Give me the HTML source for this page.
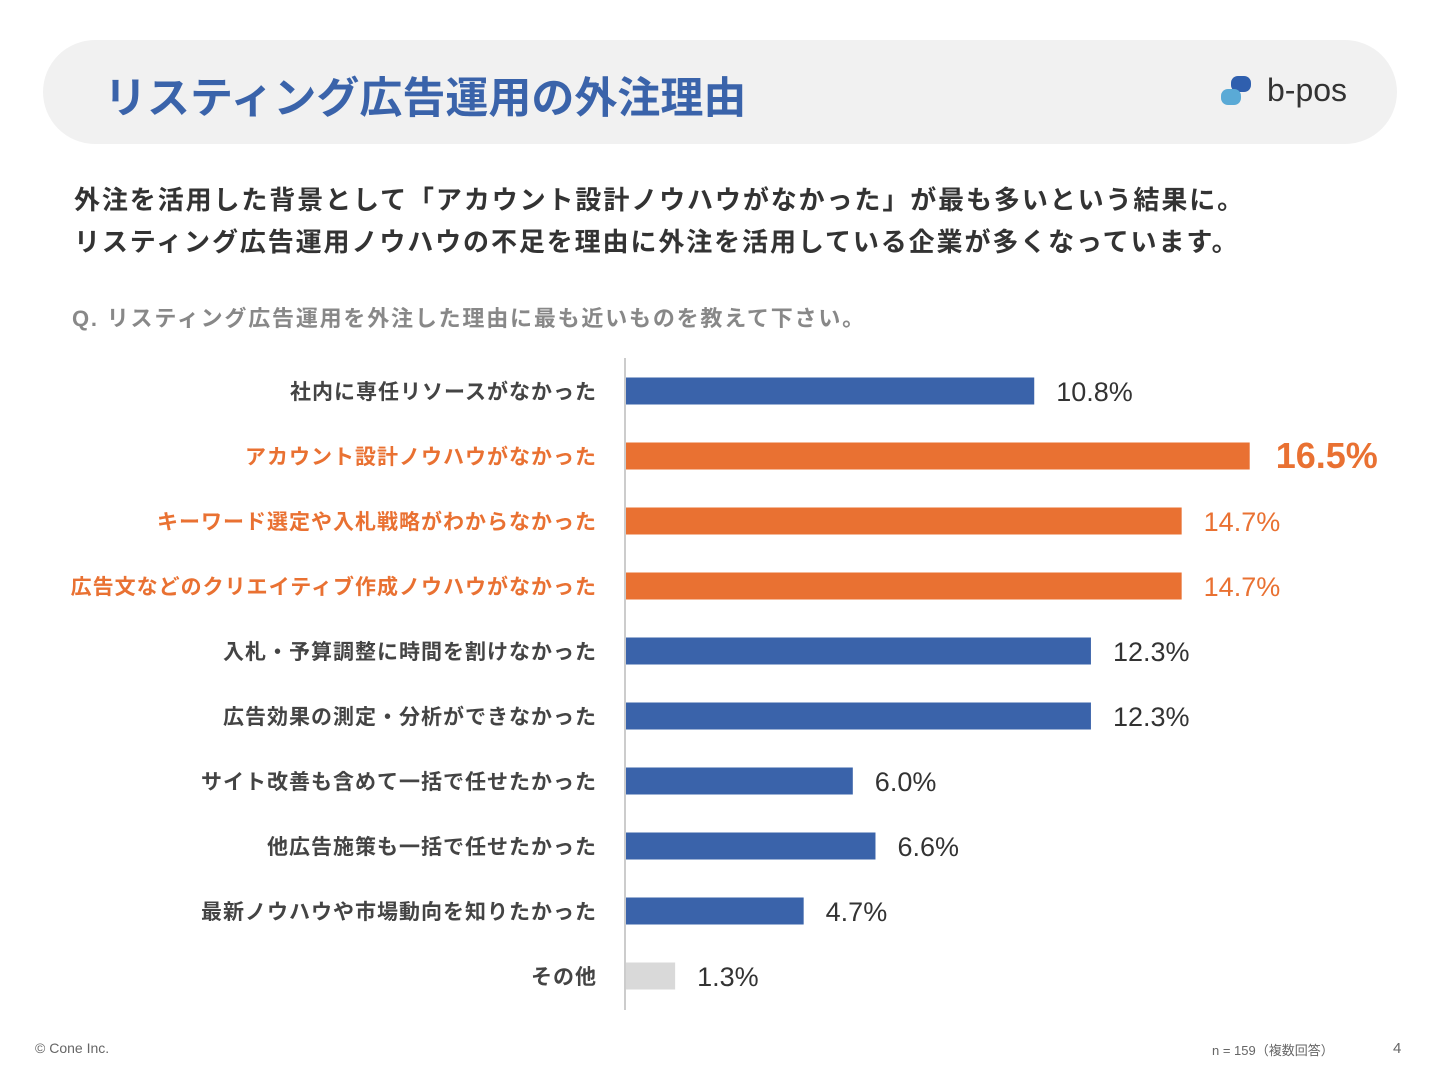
<!DOCTYPE html>
<html><head><meta charset="utf-8"><style>
body{margin:0;width:1440px;height:1080px;background:#fff;font-family:"Liberation Sans","Noto Sans CJK JP",sans-serif;position:relative;overflow:hidden}
.hdr{position:absolute;left:43px;top:40px;width:1354px;height:104px;background:#f1f1f1;border-radius:52px}
.title{position:absolute;left:104px;top:64px;font-size:43px;font-weight:bold;color:#3a63aa;letter-spacing:0}
.sub{position:absolute;left:74px;font-size:26px;font-weight:bold;color:#333;letter-spacing:1.9px}
.q{position:absolute;left:72px;top:301px;font-size:22px;font-weight:bold;color:#888;letter-spacing:1.8px}
.foot{position:absolute;font-size:14px;color:#666}
</style></head><body>
<div class="hdr"></div>
<div class="title">リスティング広告運用の外注理由</div>
<div style="position:absolute;left:1220px;top:74px;width:140px;height:40px">
<svg width="40" height="40" style="position:absolute;left:0;top:0"><rect x="11" y="2" width="20" height="16" rx="7" fill="#2f5fae"/><rect x="1" y="15" width="20" height="16" rx="7" fill="#5aaad6"/></svg>
<span style="position:absolute;left:47px;top:-2px;font-size:32px;color:#333">b-pos</span></div>
<div class="sub" style="top:180px">外注を活用した背景として「アカウント設計ノウハウがなかった」が最も多いという結果に。</div>
<div class="sub" style="top:222px">リスティング広告運用ノウハウの不足を理由に外注を活用している企業が多くなっています。</div>
<div class="q">Q. リスティング広告運用を外注した理由に最も近いものを教えて下さい。</div>
<svg id="chart" width="1440" height="1080" style="position:absolute;left:0;top:0"></svg>
<div class="foot" style="left:35px;top:1040px">© Cone Inc.</div>
<div class="foot" style="left:1212px;top:1040px;font-size:13px">n = 159（複数回答）</div>
<div class="foot" style="left:1393px;top:1040px;font-size:15px">4</div>
<script>
const categories=["社内に専任リソースがなかった","アカウント設計ノウハウがなかった","キーワード選定や入札戦略がわからなかった","広告文などのクリエイティブ作成ノウハウがなかった","入札・予算調整に時間を割けなかった","広告効果の測定・分析ができなかった","サイト改善も含めて一括で任せたかった","他広告施策も一括で任せたかった","最新ノウハウや市場動向を知りたかった","その他"];
const values=[10.8,16.5,14.7,14.7,12.3,12.3,6.0,6.6,4.7,1.3];
const labels=["10.8%","16.5%","14.7%","14.7%","12.3%","12.3%","6.0%","6.6%","4.7%","1.3%"];
const highlight=[0,1,1,1,0,0,0,0,0,0];
const svg=document.getElementById('chart');const NS='http://www.w3.org/2000/svg';
const x0=625,scale=37.8,y0=391,step=65,bh=27;
const xs=v=>v*scale;const ys=i=>y0+i*step;
const ax=document.createElementNS(NS,'line');


ax.setAttribute('x1',x0);ax.setAttribute('x2',x0);ax.setAttribute('y1',358);ax.setAttribute('y2',1010);ax.setAttribute('stroke','#ccc');ax.setAttribute('stroke-width',2);svg.appendChild(ax);
values.forEach((v,i)=>{
 const c=i===values.length-1?'#d9d9d9':(highlight[i]?'#e97132':'#3a63aa');
 const tc=highlight[i]?'#e97132':'#333';
 const r=document.createElementNS(NS,'rect');
 
 
 r.setAttribute('x',x0+1);r.setAttribute('y',ys(i)-bh/2);r.setAttribute('width',xs(v));r.setAttribute('height',bh);r.setAttribute('fill',c);svg.appendChild(r);
 const t=document.createElementNS(NS,'text');
 
 
 t.setAttribute('x',597);t.setAttribute('y',ys(i)+8);t.setAttribute('text-anchor','end');t.setAttribute('font-size',21);t.setAttribute('letter-spacing','1');t.setAttribute('font-weight','bold');t.setAttribute('fill',highlight[i]?'#e97132':'#444');t.textContent=categories[i];svg.appendChild(t);
 const big=i===1;
 const vl=document.createElementNS(NS,'text');
 
 
 vl.setAttribute('x',x0+xs(v)+(big?27:23));vl.setAttribute('y',ys(i)+(big?12:10));vl.setAttribute('font-size',big?36:27);vl.setAttribute('fill',tc);vl.setAttribute('font-weight',big?'bold':'normal');vl.textContent=labels[i];svg.appendChild(vl);
});
</script>
</body></html>
